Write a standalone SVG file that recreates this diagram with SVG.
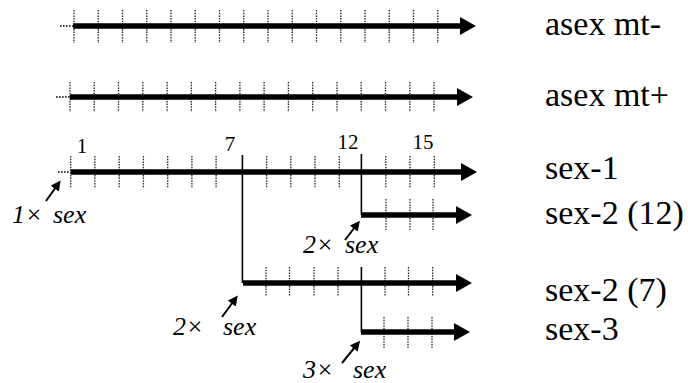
<svg xmlns="http://www.w3.org/2000/svg" width="688" height="383" viewBox="0 0 688 383">
<style>
.bar{stroke:#000;stroke-width:5.5;fill:none}
.lead{stroke:#000;stroke-width:1.6;stroke-dasharray:1.6 1.4;fill:none}
.tick{stroke:#222;stroke-width:1.3;stroke-dasharray:1.5 1.2;fill:none}
.link{stroke:#000;stroke-width:1.6;fill:none}
.ann{stroke:#000;stroke-width:2;fill:none}
text{font-family:'Liberation Serif','DejaVu Serif',serif;fill:#000}
.lbl{font-size:34px}
.num{font-size:21px;text-anchor:middle}
.it{font-size:26px;font-style:italic}
</style>
<defs>
<marker id="head" markerUnits="userSpaceOnUse" viewBox="0 0 16 18" markerWidth="16" markerHeight="18" refX="2" refY="9" orient="auto">
<path d="M0,0 L16,9 L0,18 z" fill="#000"/>
</marker>
<marker id="small" markerUnits="userSpaceOnUse" viewBox="0 0 10 10" markerWidth="10" markerHeight="10" refX="2" refY="5" orient="auto">
<path d="M0,0 L10,5 L0,10 z" fill="#000"/>
</marker>
</defs>

<g id="asex-mt-minus">
<path class="lead" d="M60,26 H73"/>
<path class="tick" d="M74,10V43M98.25,10V43M122.5,10V43M146.75,10V43M171,10V43M195.25,10V43M219.5,10V43M243.75,10V43M268,10V43M292.25,10V43M316.5,10V43M340.75,10V43M365,10V43M389.25,10V43M413.5,10V43M437.75,10V43"/>
<path class="bar" d="M73,26 H462" marker-end="url(#head)"/>
<text class="lbl" font-family="Liberation Serif, serif" x="545" y="35">asex mt-</text>
</g>

<g id="asex-mt-plus">
<path class="lead" d="M56,97 H70"/>
<path class="tick" d="M70,82V112M94.27,82V112M118.5,82V112M142.8,82V112M167.1,82V112M191.3,82V112M215.6,82V112M239.9,82V112M264.1,82V112M288.4,82V112M312.7,82V112M337,82V112M361.2,82V112M385.5,82V112M409.8,82V112M434,82V112"/>
<path class="bar" d="M70,97 H459" marker-end="url(#head)"/>
<text class="lbl" font-family="Liberation Serif, serif" x="545" y="106">asex mt+</text>
</g>

<g id="sex-1">
<path class="lead" d="M58,172 H70"/>
<path class="tick" d="M70.7,156V188M94.9,156V188M119.2,156V188M143.4,156V188M167.7,156V188M191.9,156V188M216.1,156V188M266.6,156V188M290.8,156V188M315,156V188M339.3,156V188M385.8,156V188M410,156V188M434.3,156V188"/>
<path class="bar" d="M70.7,172 H463" marker-end="url(#head)"/>
<text class="num" font-family="Liberation Serif, serif" x="82" y="153">1</text>
<text class="num" font-family="Liberation Serif, serif" x="230" y="151">7</text>
<text class="num" font-family="Liberation Serif, serif" x="348" y="149">12</text>
<text class="num" font-family="Liberation Serif, serif" x="423" y="149">15</text>
<text class="lbl" font-family="Liberation Serif, serif" x="545" y="179">sex-1</text>
</g>

<g id="sex-2-12">
<path class="tick" d="M386,199V230M410,199V230M433,199V230"/>
<path class="bar" d="M361,215 H458" marker-end="url(#head)"/>
<text class="lbl" font-family="Liberation Serif, serif" x="545" y="224">sex-2 (12)</text>
</g>

<g id="sex-2-7">
<path class="tick" d="M266,267V296M289.5,267V296M314,267V296M338,267V296M385,267V296M408.5,267V296M432.7,267V296"/>
<path class="bar" d="M243,283 H458" marker-end="url(#head)"/>
<text class="lbl" font-family="Liberation Serif, serif" x="545" y="301">sex-2 (7)</text>
</g>

<g id="sex-3">
<path class="tick" d="M384,317V348M408,317V348M432,317V348"/>
<path class="bar" d="M361,332 H456" marker-end="url(#head)"/>
<text class="lbl" font-family="Liberation Serif, serif" x="545" y="340">sex-3</text>
</g>

<g id="connectors">
<path class="link" d="M242.4,155 V283"/>
<path class="link" d="M361.4,154 V215"/>
<path class="link" d="M361.4,267 V332"/>
<path class="ann" d="M46,201 L56,187" marker-end="url(#small)"/>
<path class="ann" d="M345,240 L355,227" marker-end="url(#small)"/>
<path class="ann" d="M222,317 L233,302" marker-end="url(#small)"/>
<path class="ann" d="M342,363 L355,347" marker-end="url(#small)"/>
</g>

<g id="annotations">
<text class="it" font-family="Liberation Serif, serif" y="223"><tspan x="12">1×</tspan><tspan x="53">sex</tspan></text>
<text class="it" font-family="Liberation Serif, serif" y="253"><tspan x="303">2×</tspan><tspan x="345">sex</tspan></text>
<text class="it" font-family="Liberation Serif, serif" y="335"><tspan x="173">2×</tspan><tspan x="223">sex</tspan></text>
<text class="it" font-family="Liberation Serif, serif" y="378"><tspan x="303">3×</tspan><tspan x="353">sex</tspan></text>
</g>
</svg>
